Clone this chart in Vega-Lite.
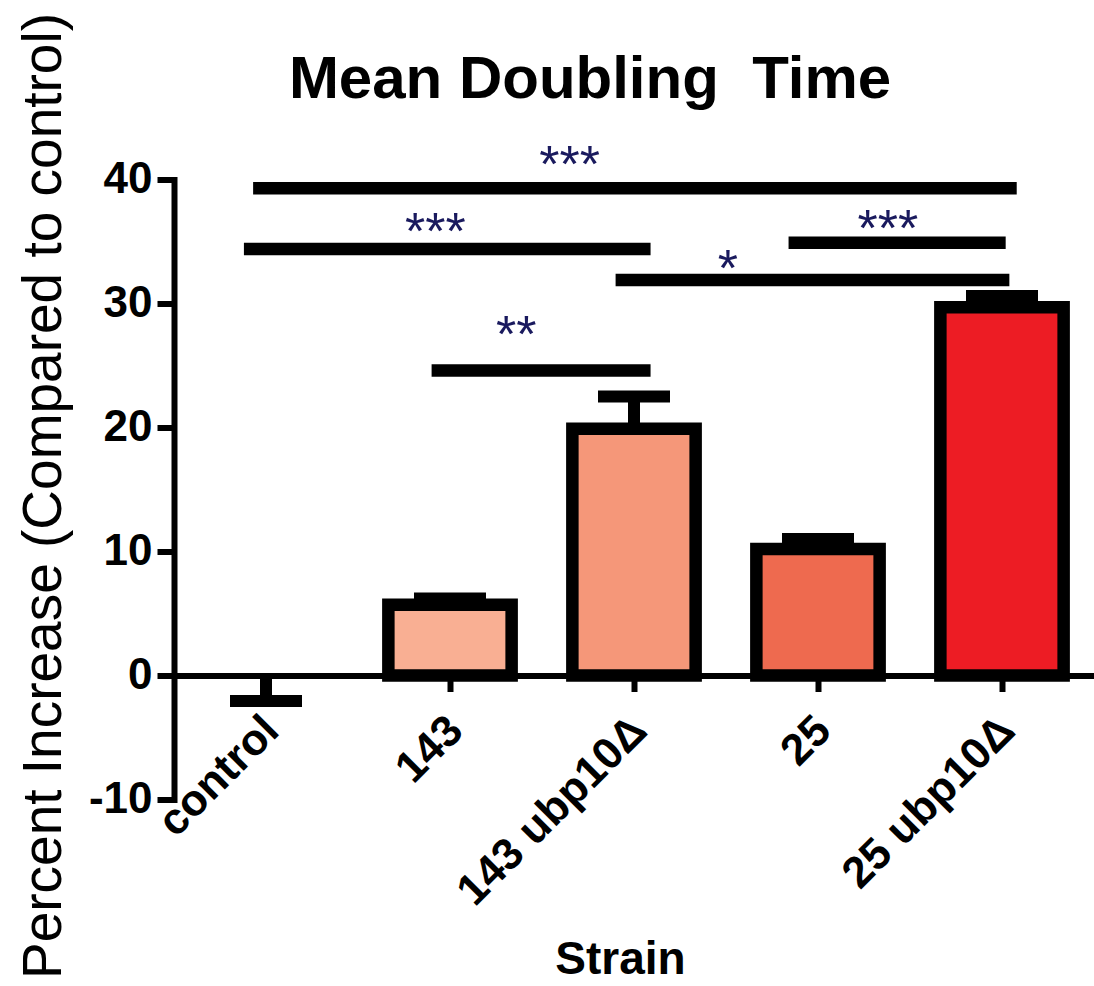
{
  "$schema": "https://vega.github.io/schema/vega-lite/v6.json",
  "width": 920,
  "height": 620,
  "autosize": {"type": "none"},
  "padding": {"left": 174, "top": 179.5, "right": 0, "bottom": 186.5},
  "background": "white",
  "config": {"view": {"stroke": null}, "font": "Liberation Sans"},
  "title": {
    "text": "Mean Doubling\u00a0 Time",
    "font": "Liberation Sans",
    "fontSize": 60,
    "fontWeight": "bold",
    "color": "black",
    "anchor": "middle",
    "dx": -44,
    "offset": -145,
    "baseline": "alphabetic"
  },
  "datasets": {
    "bars": [
      {"strain": "control", "mean": 0, "err": -2.05},
      {"strain": "143", "mean": 5.7, "err": 6.2},
      {"strain": "143 ubp10Δ", "mean": 19.9, "err": 22.5},
      {"strain": "25", "mean": 10.2, "err": 11.0},
      {"strain": "25 ubp10Δ", "mean": 29.7, "err": 30.6}
    ],
    "sig": [
      {"from": -0.07, "to": 4.08, "y": 39.3, "stars": "***", "labelX": 1.65, "labelY": 39.8},
      {"from": -0.12, "to": 2.09, "y": 34.4, "stars": "***", "labelX": 0.92, "labelY": 34.4},
      {"from": 1.9, "to": 4.04, "y": 31.9, "stars": "*", "labelX": 2.51, "labelY": 31.4},
      {"from": 2.84, "to": 4.02, "y": 34.9, "stars": "***", "labelX": 3.38, "labelY": 34.6},
      {"from": 0.9, "to": 2.09, "y": 24.6, "stars": "**", "labelX": 1.36, "labelY": 26.1}
    ]
  },
  "layer": [
    {
      "layer": [
        {
          "data": {"name": "bars"},
          "transform": [{"filter": "datum.strain != 'control'"}],
          "mark": {"type": "bar", "stroke": "black", "strokeWidth": 12.5, "strokeJoin": "miter"},
          "encoding": {
            "x": {
              "field": "strain",
              "type": "nominal",
              "scale": {"domain": ["control", "143", "143 ubp10Δ", "25", "25 ubp10Δ"], "paddingInner": 0.33, "paddingOuter": 0.165},
              "axis": {
                "title": "Strain",
                "titleFont": "Liberation Sans",
                "titleFontSize": 46,
                "titleFontWeight": "bold",
                "titleColor": "black",
                "titlePadding": 62,
                "titleX": 446,
                "labelAngle": -45,
                "labelAlign": "right",
                "labelBaseline": "middle",
                "labelFont": "Liberation Sans",
                "labelFontSize": 44,
                "labelFontWeight": "bold",
                "labelColor": "black",
                "labelPadding": 32,
                "labelOffset": 6,
                "labelLimit": 500,
                "labelOverlap": false,
                "tickColor": "black",
                "tickWidth": 6,
                "tickSize": 16,
                "domainColor": "black",
                "domainWidth": 6,
                "offset": -124,
                "grid": false
              }
            },
            "y": {
              "field": "mean",
              "type": "quantitative",
              "scale": {"domain": [-10, 40], "nice": false, "zero": false},
              "axis": {
                "values": [-10, 0, 10, 20, 30, 40],
                "labelExpr": "replace(datum.label, '−', '-')",
                "title": "Percent Increase (Compared to control)",
                "titleFont": "Liberation Sans",
                "titleFontSize": 55,
                "titleFontWeight": "normal",
                "titleColor": "black",
                "titlePadding": 16,
                "titleY": 316,
                "labelFont": "Liberation Sans",
                "labelFontSize": 44,
                "labelFontWeight": "bold",
                "labelColor": "black",
                "labelPadding": 5,
                "labelFlush": false,
                "labelOverlap": false,
                "tickColor": "black",
                "tickWidth": 6,
                "tickSize": 17,
                "domainColor": "black",
                "domainWidth": 6,
                "domainCap": "square",
                "grid": false
              }
            },
            "fill": {
              "field": "strain",
              "type": "nominal",
              "scale": {"domain": ["143", "143 ubp10Δ", "25", "25 ubp10Δ"], "range": ["#F9AF93", "#F59779", "#EE6A4F", "#ED1C24"]},
              "legend": null
            }
          }
        },
        {
          "data": {"name": "bars"},
          "mark": {"type": "rule", "stroke": "black", "strokeWidth": 12},
          "encoding": {
            "x": {"field": "strain", "type": "nominal"},
            "y": {"field": "mean", "type": "quantitative"},
            "y2": {"field": "err"}
          }
        },
        {
          "data": {"name": "bars"},
          "mark": {"type": "tick", "color": "black", "size": 72, "thickness": 12, "orient": "horizontal", "opacity": 1},
          "encoding": {
            "x": {"field": "strain", "type": "nominal"},
            "y": {"field": "err", "type": "quantitative"}
          }
        }
      ]
    },
    {
      "layer": [
        {
          "data": {"name": "sig"},
          "mark": {"type": "rule", "stroke": "black", "strokeWidth": 12.5},
          "encoding": {
            "x": {"field": "from", "type": "quantitative", "scale": {"domain": [-0.5, 4.5], "nice": false, "zero": false}, "axis": null},
            "x2": {"field": "to"},
            "y": {"field": "y", "type": "quantitative"}
          }
        },
        {
          "data": {"name": "sig"},
          "mark": {"type": "text", "font": "Liberation Sans", "fontSize": 52, "color": "#1a1a5e", "baseline": "alphabetic", "align": "center"},
          "encoding": {
            "x": {"field": "labelX", "type": "quantitative"},
            "y": {"field": "labelY", "type": "quantitative"},
            "text": {"field": "stars"}
          }
        }
      ]
    }
  ],
  "resolve": {"scale": {"x": "independent"}}
}
